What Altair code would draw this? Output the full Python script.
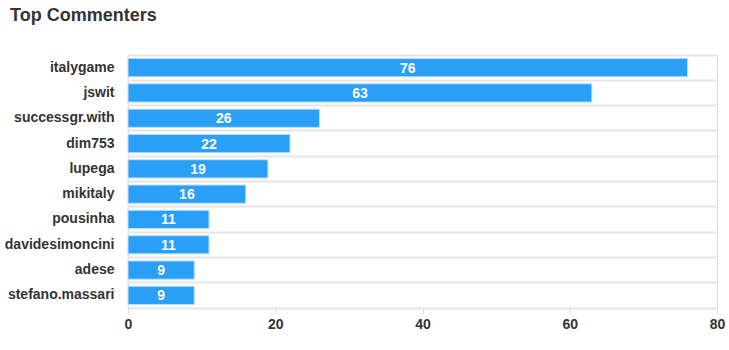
import altair as alt
import pandas as pd

names = ["italygame", "jswit", "successgr.with", "dim753", "lupega", "mikitaly",
         "pousinha", "davidesimoncini", "adese", "stefano.massari"]
counts = [76, 63, 26, 22, 19, 16, 11, 11, 9, 9]

df = pd.DataFrame({"name": names, "count": counts})

y = alt.Y("name:N", sort=names, title=None,
          scale=alt.Scale(paddingInner=0, paddingOuter=0),
          axis=alt.Axis(grid=True, bandPosition=0, gridColor="#e6e6e6", gridWidth=2,
                        domainColor="#e6e6e6", domainWidth=2, ticks=False,
                        labelFont="Liberation Sans", labelFontSize=14, labelFontWeight="bold",
                        labelColor="#333333", labelPadding=14))
x = alt.X("count:Q", title=None,
          scale=alt.Scale(domain=[0, 80], nice=False),
          axis=alt.Axis(values=[0, 20, 40, 60, 80], grid=False, domainColor="#e6e6e6",
                        domainWidth=2, tickColor="#dddddd", tickSize=6, labelFlush=False,
                        labelFont="Liberation Sans", labelFontSize=14, labelFontWeight="bold",
                        labelColor="#333333", labelPadding=3))

bars = alt.Chart(df).mark_bar(height={"band": 0.72}, color="#2a9ff6", stroke="#b9dcfa",
                              strokeWidth=1).encode(x=x, y=y)

labels = alt.Chart(df).transform_calculate(mid="datum.count / 2").mark_text(
    color="white", font="Liberation Sans", fontSize=14, fontWeight="bold", baseline="middle", dy=1
).encode(x=alt.X("mid:Q"), y=alt.Y("name:N", sort=names), text="count:Q")

chart = alt.layer(bars, labels).properties(
    width=589, height=253,
    title=alt.TitleParams("Top Commenters", anchor="start", frame="group", dx=-118, dy=18,
                          font="Liberation Sans", fontSize=18, fontWeight="bold",
                          color="#333333", baseline="alphabetic", offset=34),
    autosize=alt.AutoSizeParams(type="none"),
    padding={"left": 128, "top": 55, "right": 12, "bottom": 42},
).configure_view(stroke=None).configure(background="white")

chart.save("out.html", embed_options={"renderer": "svg", "actions": False})
